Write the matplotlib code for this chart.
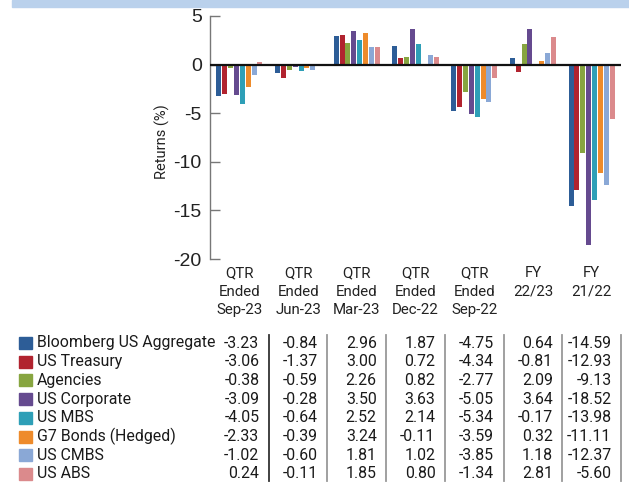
import matplotlib
matplotlib.use("Agg")
import numpy as np
import matplotlib.pyplot as plt
from matplotlib.patches import Rectangle
from matplotlib.transforms import blended_transform_factory

periods = ["QTR\nEnded\nSep-23", "QTR\nEnded\nJun-23", "QTR\nEnded\nMar-23",
           "QTR\nEnded\nDec-22", "QTR\nEnded\nSep-22", "FY\n22/23", "FY\n21/22"]

series_names = ["Bloomberg US Aggregate", "US Treasury", "Agencies", "US Corporate",
                "US MBS", "G7 Bonds (Hedged)", "US CMBS", "US ABS"]

us_aggregate = [-3.23, -0.84, 2.96, 1.87, -4.75, 0.64, -14.59]
us_treasury = [-3.06, -1.37, 3.00, 0.72, -4.34, -0.81, -12.93]
agencies = [-0.38, -0.59, 2.26, 0.82, -2.77, 2.09, -9.13]
us_corporate = [-3.09, -0.28, 3.50, 3.63, -5.05, 3.64, -18.52]
us_mbs = [-4.05, -0.64, 2.52, 2.14, -5.34, -0.17, -13.98]
g7_hedged = [-2.33, -0.39, 3.24, -0.11, -3.59, 0.32, -11.11]
us_cmbs = [-1.02, -0.60, 1.81, 1.02, -3.85, 1.18, -12.37]
us_abs = [0.24, -0.11, 1.85, 0.80, -1.34, 2.81, -5.60]

colors = ["#2d5d97", "#b1232f", "#87a540", "#654a8f",
          "#2e9fb7", "#ee8b2b", "#8aa8d6", "#db8a8c"]

all_series = [us_aggregate, us_treasury, agencies, us_corporate,
              us_mbs, g7_hedged, us_cmbs, us_abs]

W, H = 629, 482
fig = plt.figure(figsize=(W / 100, H / 100), dpi=100)

# light blue band along the top
fig.patches.append(Rectangle((12 / W, 1 - 7 / H), 1, 7 / H, transform=fig.transFigure,
                             color="#bad1ec", zorder=0))

ax = fig.add_axes([210 / W, 1 - 259 / H, 411 / W, 243 / H])

x = np.arange(len(periods))
step = 0.1
for i, (vals, c) in enumerate(zip(all_series, colors)):
    ax.bar(x + (i - 3.5) * step, vals, width=0.085, color=c, zorder=2)

ax.axhline(0, color="#111111", lw=1.6, zorder=3)
ax.set_xlim(-0.5, len(periods) - 0.5)
ax.set_ylim(-20, 5)
ax.set_yticks([5, 0, -5, -10, -15, -20])
ax.set_yticklabels(["5", "0", "-5", "-10", "-15", "-20"], family="Liberation Sans",
                   fontsize=14, color="#222222")
ax.tick_params(axis="y", direction="in", length=7, width=1, color="#777777", pad=6)
ax.set_xticks(x)
ax.set_xticklabels(periods, family="Roboto", fontsize=10.8, color="#222222",
                   linespacing=1.42, va="top")
ax.tick_params(axis="x", length=0, pad=5)
for s in ["top", "right", "bottom"]:
    ax.spines[s].set_visible(False)
ax.spines["left"].set_color("#777777")
ax.spines["left"].set_linewidth(1)

fig.text(162 / W, 1 - 142 / H, "Returns (%)", rotation=90, ha="center", va="center",
         family="Roboto", fontsize=10.5, color="#222222")

# data table under the chart
tr = blended_transform_factory(ax.transData, fig.transFigure)
row0, row_step = 343, 18.7
for r, (name, vals, c) in enumerate(zip(series_names, all_series, colors)):
    yc = 1 - (row0 + r * row_step) / H
    fig.patches.append(Rectangle((19 / W, yc - 6 / H), 13 / W, 12 / H,
                                 transform=fig.transFigure, color=c))
    fig.text(37 / W, yc, name, ha="left", va="center", family="Roboto",
             fontsize=11.4, color="#1a1a1a")
    for j, v in enumerate(vals):
        ax.text(j + 0.5 - 0.16, yc, f"{v:.2f}", transform=tr, ha="right", va="center",
                family="Roboto", fontsize=11.4, color="#1a1a1a", clip_on=False)

for j in range(len(periods)):
    sep_color = "#333333" if j == 0 else "#999999"
    ax.plot([j + 0.5, j + 0.5], [1 - 335 / H, 1 - 481 / H], transform=tr,
            color=sep_color, lw=1.3, clip_on=False)

fig.savefig("out.png", dpi=100)
